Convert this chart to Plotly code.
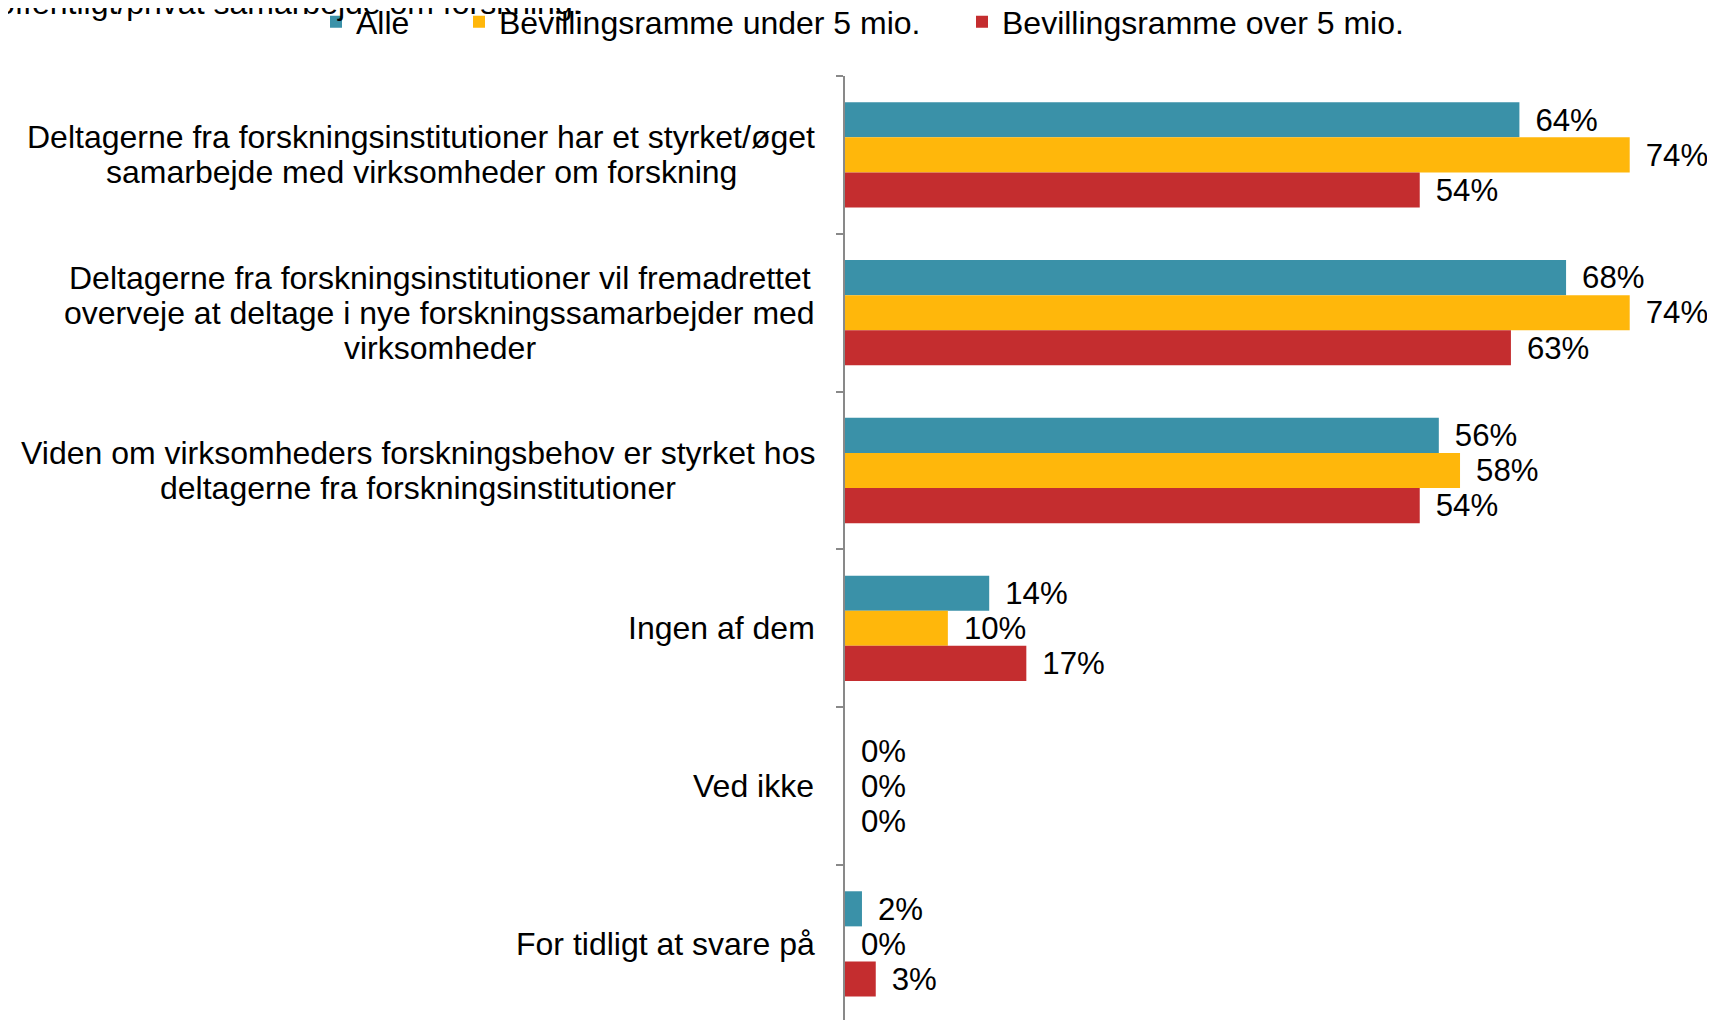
import plotly.graph_objects as go

categories = [
    "Deltagerne fra forskningsinstitutioner har et styrket/øget<br>samarbejde med virksomheder om forskning",
    "Deltagerne fra forskningsinstitutioner vil fremadrettet<br>overveje at deltage i nye forskningssamarbejder med<br>virksomheder",
    "Viden om virksomheders forskningsbehov er styrket hos<br>deltagerne fra forskningsinstitutioner",
    "Ingen af dem",
    "Ved ikke",
    "For tidligt at svare på",
]
series_names = ["Alle", "Bevillingsramme under 5 mio.", "Bevillingsramme over 5 mio."]
alle = [63.6, 68.0, 56.0, 13.6, 0.0, 1.6]
under5 = [74.0, 74.0, 58.0, 9.7, 0.0, 0.0]
over5 = [54.2, 62.8, 54.2, 17.1, 0.0, 2.9]
title_text = "offentligt/privat samarbejde om forskning."

colors = ["#3A91A8", "#FFB70B", "#C42D2F"]
FONT = "Liberation Sans, Arial, Helvetica, sans-serif"
FS = 32
LINE_H = 35          # line spacing of category labels (px)
LABEL_GAP = 30       # gap between label block and axis line (px)

# page offset of 8px (browser body margin) compensated
OFF = 8
W, H = 1715 - OFF, 1020 - OFF
L, T = 845 - OFF, 76 - OFF

# Arial / Liberation Sans advance widths (1/1000 em) for centering label blocks
ARIAL_W = {
    " ": 278, "a": 556, "b": 556, "c": 500, "d": 556, "e": 556, "f": 278, "g": 556,
    "h": 556, "i": 222, "j": 222, "k": 500, "l": 222, "m": 833, "n": 556, "o": 556,
    "p": 556, "q": 556, "r": 333, "s": 500, "t": 278, "u": 556, "v": 500, "w": 722,
    "x": 500, "y": 500, "z": 500, "D": 722, "V": 667, "I": 278, "F": 611, "/": 278,
    "ø": 611, "å": 556, ".": 278,
}


def text_width(s, size):
    return sum(ARIAL_W.get(ch, 556) for ch in s) * size / 1000.0


cat_ids = [f"c{i}" for i in range(len(categories))]

fig = go.Figure()
legend_names = ["legend", "legend2", "legend3"]
for name, vals, col, lg in zip(series_names, [alle, under5, over5], colors, legend_names):
    fig.add_trace(go.Bar(
        y=cat_ids, x=vals, name=name, orientation="h",
        marker=dict(color=col, line=dict(width=0)),
        texttemplate="\u2004\u200a%{x:.0f}%", textposition="outside",
        textfont=dict(family=FONT, size=FS, color="#000000"),
        cliponaxis=False, legend=lg,
    ))

# category labels: centered multi-line blocks whose right edge sits next to the axis
for cid, lab in zip(cat_ids, categories):
    lines = lab.split("<br>")
    n = len(lines)
    maxw = max(text_width(s, FS) for s in lines)
    for i, line in enumerate(lines):
        fig.add_annotation(
            x=0, y=cid, xref="x", yref="y", text=line, showarrow=False,
            xanchor="center", yanchor="middle", align="center",
            xshift=-(LABEL_GAP + maxw / 2), yshift=((n - 1) / 2 - i) * LINE_H,
            font=dict(family=FONT, size=FS, color="#000000"),
        )

# partially visible title at the top-left (cut by the image edge)
plot_w, plot_h = W - L, H - T
fig.add_annotation(
    x=(-13 - L) / plot_w, y=1 + (T + 5) / plot_h, xref="paper", yref="paper",
    text=title_text, showarrow=False, xanchor="left", yanchor="middle",
    font=dict(family=FONT, size=FS, color="#000000"),
)

legend_text_x = [358 - OFF, 501 - OFF, 1004 - OFF]
leg_common = dict(orientation="h", xref="container", yref="container", yanchor="middle",
                  font=dict(family=FONT, size=FS, color="#000000"),
                  bgcolor="rgba(0,0,0,0)", borderwidth=0, tracegroupgap=0)
for lg, tx in zip(legend_names, legend_text_x):
    fig.update_layout({lg: dict(x=(tx - 42) / W, y=1 - (22 - OFF) / H, **leg_common)})

px_per_unit = 10.604
xmax = plot_w / px_per_unit
cat_px = 157.8
n_units = plot_h / cat_px

fig.update_layout(
    width=W, height=H,
    margin=dict(l=L, r=0, t=T, b=0, pad=0),
    paper_bgcolor="white", plot_bgcolor="white",
    barmode="group", bargap=0.333, bargroupgap=0,
    showlegend=True,
    xaxis=dict(range=[0, xmax], visible=False, fixedrange=True),
    yaxis=dict(
        type="category", categoryorder="array", categoryarray=cat_ids,
        range=[-0.5 + n_units, -0.5],
        showticklabels=False, showgrid=False, zeroline=False,
        showline=True, linecolor="#898989", linewidth=1.5,
        ticks="outside", ticklen=7, tickwidth=1.5, tickcolor="#898989",
        tickson="boundaries",
    ),
)

fig.write_html("out.html")
